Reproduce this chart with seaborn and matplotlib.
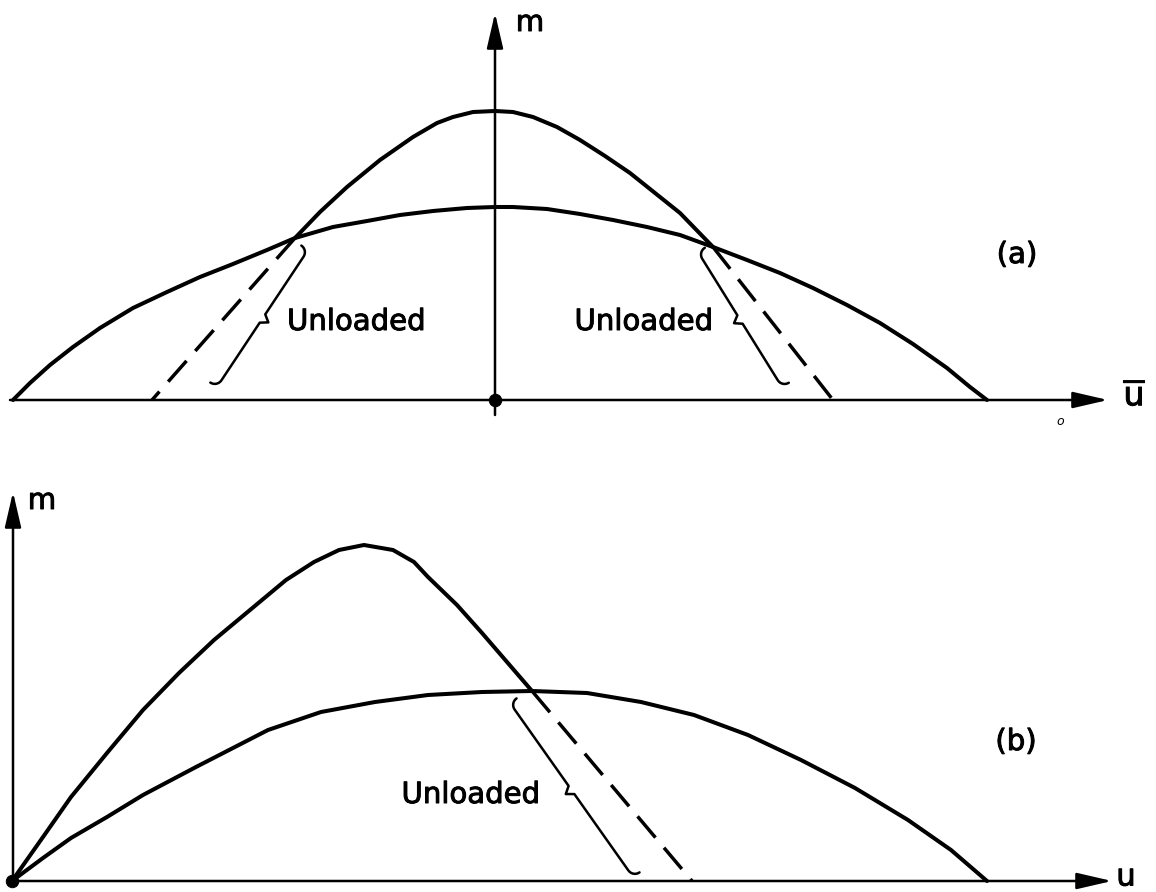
import numpy as np
import pandas as pd
import matplotlib
matplotlib.use("Agg")
import matplotlib.pyplot as plt
import matplotlib.patheffects as pe
import seaborn as sns

# ---------------- data (u, m) ----------------
# (a) symmetric loading about u = 0: envelope and peak curve
a_env_u = [-4.82, -4.65, -4.45, -4.22, -3.95, -3.62, -3.28, -2.95, -2.62, -2.28, -2.00,
           -1.62, -1.28, -0.95, -0.62, -0.28, 0.00, 0.18, 0.52, 0.85, 1.18, 1.52, 1.85,
           2.18, 2.52, 2.85, 3.18, 3.52, 3.85, 4.18, 4.52, 4.75, 4.92]
a_env_m = [0.00, 0.17, 0.35, 0.53, 0.72, 0.92, 1.08, 1.23, 1.36, 1.50, 1.62,
           1.73, 1.79, 1.85, 1.89, 1.92, 1.93, 1.93, 1.91, 1.86, 1.80, 1.73, 1.65,
           1.53, 1.40, 1.27, 1.12, 0.95, 0.77, 0.56, 0.32, 0.13, 0.00]

a_peak_u = [-2.00, -1.75, -1.48, -1.15, -0.82, -0.58, -0.42, -0.22, 0.00, 0.18, 0.38,
            0.62, 0.85, 1.10, 1.35, 1.60, 1.85, 2.18]
a_peak_m = [1.62, 1.88, 2.13, 2.40, 2.63, 2.77, 2.83, 2.88, 2.89, 2.88, 2.83,
            2.73, 2.60, 2.44, 2.27, 2.07, 1.87, 1.53]

a_unload_left_u = [-2.00, -3.43]
a_unload_left_m = [1.62, 0.00]
a_unload_right_u = [2.18, 3.38]
a_unload_right_m = [1.53, 0.00]

# (b) loading from the origin: envelope and peak curve
b_env_u = [0.00, 0.31, 0.59, 0.95, 1.31, 1.84, 2.56, 3.09, 3.63, 4.16, 4.70, 5.20,
           5.75, 6.29, 6.82, 7.36, 7.89, 8.43, 8.96, 9.39, 9.75]
b_env_m = [0.00, 0.23, 0.43, 0.64, 0.86, 1.14, 1.51, 1.69, 1.79, 1.86, 1.89, 1.90,
           1.88, 1.79, 1.66, 1.46, 1.21, 0.93, 0.61, 0.31, 0.00]

b_peak_u = [0.00, 0.31, 0.59, 0.95, 1.31, 1.67, 2.02, 2.38, 2.74, 3.02, 3.27, 3.52,
            3.81, 4.02, 4.16, 4.45, 4.70, 4.95, 5.20]
b_peak_m = [0.00, 0.44, 0.84, 1.28, 1.71, 2.08, 2.41, 2.71, 3.01, 3.19, 3.31, 3.36,
            3.31, 3.19, 3.04, 2.76, 2.48, 2.19, 1.90]

b_unload_u = [5.20, 6.80]
b_unload_m = [1.90, 0.00]

# brace end points (top, bottom) beside each unloading branch
a_brace_left = [(-1.87, 1.50), (-2.78, 0.13)]
a_brace_right = [(2.03, 1.48), (2.87, 0.13)]
b_brace = [(4.98, 1.78), (6.21, 0.04)]

label_unloaded = "Unloaded"

# ---------------- figure ----------------
sns.set_theme(style="white")
plt.rcParams["font.family"] = ["DejaVu Sans"]
plt.rcParams["mathtext.default"] = "regular"
plt.rcParams["text.color"] = "black"

W, H = 11.56, 8.92
fig = plt.figure(figsize=(W, H), dpi=100)
fig.patch.set_facecolor("white")

# each panel spans the whole figure; limits put its origin in place
ax_a = fig.add_axes([0, 0, 1, 1])
ax_a.set_xlim(-4.95, 6.61)
ax_a.set_ylim(-4.92, 4.00)
ax_b = fig.add_axes([0, 0, 1, 1])
ax_b.set_xlim(-0.12, 11.44)
ax_b.set_ylim(-0.11, 8.81)
for ax in (ax_a, ax_b):
    ax.set_axis_off()
    ax.patch.set_alpha(0)

CURVE_LW = 2.9
THIN_LW = 1.8
DASH_LW = 2.5
dash = (0, (20 / DASH_LW, 9.5 / DASH_LW))
bold = [pe.withStroke(linewidth=0.7, foreground="black")]


def curve(ax, u, m, lw=CURVE_LW, ls="-"):
    df = pd.DataFrame({"u": u, "m": m})
    sns.lineplot(data=df, x="u", y="m", ax=ax, sort=False, estimator=None,
                 color="black", lw=lw, linestyle=ls, legend=False,
                 solid_capstyle="round", solid_joinstyle="round")


def axis_arrow(ax, start, tip):
    ax.annotate("", xy=tip, xytext=start,
                arrowprops=dict(arrowstyle="-|>,head_length=1.08,head_width=0.25",
                                mutation_scale=20, lw=THIN_LW, color="black",
                                shrinkA=0, shrinkB=0))


def brace(ax, top, bot, side, r=0.08, nub=0.07):
    """Curly brace along top-bot; the middle nub points to `side` (+1 right, -1 left)."""
    top = np.asarray(top, float)
    bot = np.asarray(bot, float)
    d = (bot - top) / np.linalg.norm(bot - top)
    n = np.array([-d[1], d[0]])
    if n[0] * side < 0:
        n = -n
    pts = []
    c1 = top + d * r - n * r
    for t in np.linspace(0, np.pi / 2, 8)[::-1]:
        pts.append(c1 + r * (np.cos(t) * n - np.sin(t) * d))
    mid = (top + bot) / 2
    pts.append(mid - d * 0.05)
    pts.append(mid + n * nub)
    pts.append(mid + d * 0.05)
    c2 = bot - d * r - n * r
    for t in np.linspace(0, np.pi / 2, 8):
        pts.append(c2 + r * (np.cos(t) * n + np.sin(t) * d))
    pts = np.array(pts)
    ax.plot(pts[:, 0], pts[:, 1], color="black", lw=THIN_LW,
            solid_capstyle="round", solid_joinstyle="round")


def label(ax, x, y, s, fs=21, ha="center", **kw):
    ax.text(x, y, s, fontsize=fs, ha=ha, va="center", color="black",
            path_effects=bold, **kw)


# ---------- panel (a) ----------
axis_arrow(ax_a, (-4.85, 0.0), (6.13, 0.0))
axis_arrow(ax_a, (0.0, -0.15), (0.0, 3.87))
curve(ax_a, a_env_u, a_env_m)
curve(ax_a, a_peak_u, a_peak_m)
curve(ax_a, a_unload_left_u, a_unload_left_m, lw=DASH_LW, ls=dash)
curve(ax_a, a_unload_right_u, a_unload_right_m, lw=DASH_LW, ls=dash)
brace(ax_a, *a_brace_left, side=+1)
brace(ax_a, *a_brace_right, side=-1)
sns.scatterplot(x=[0.0], y=[0.0], ax=ax_a, color="black", s=80, marker="o",
                edgecolor="black", legend=False, zorder=5)

label(ax_a, -2.08, 0.78, label_unloaded, ha="left")
label(ax_a, 2.18, 0.78, label_unloaded, ha="right")
label(ax_a, 0.35, 3.77, "m")
label(ax_a, 6.40, 0.04, r"$\overline{\mathrm{u}}$", fs=24)
label(ax_a, 5.22, 1.45, "(a)")
ax_a.text(5.65, -0.22, "o", fontsize=9, style="italic", ha="center", va="center",
          color="black")

# ---------- panel (b) ----------
axis_arrow(ax_b, (-0.02, 0.0), (11.0, 0.0))
axis_arrow(ax_b, (0.01, 0.0), (0.01, 3.89))
curve(ax_b, b_env_u, b_env_m)
curve(ax_b, b_peak_u, b_peak_m)
curve(ax_b, b_unload_u, b_unload_m, lw=DASH_LW, ls=dash)
brace(ax_b, *b_brace, side=-1)
sns.scatterplot(x=[0.0], y=[0.0], ax=ax_b, color="black", s=80, marker="o",
                edgecolor="black", legend=False, zorder=5)

label(ax_b, 5.28, 0.86, label_unloaded, ha="right")
label(ax_b, 0.30, 3.80, "m")
label(ax_b, 11.14, 0.04, "u", fs=22)
label(ax_b, 10.04, 1.39, "(b)")

fig.savefig("out.png", dpi=100, facecolor="white")
